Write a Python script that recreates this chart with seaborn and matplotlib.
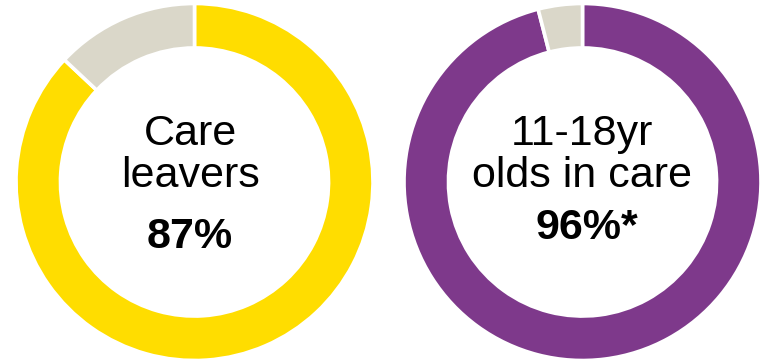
import matplotlib
matplotlib.use("Agg")
import matplotlib.pyplot as plt
import seaborn as sns

sns.set_theme(style="white")
plt.rcParams["font.family"] = ["Liberation Sans", "DejaVu Sans"]

# Share of each group, and the remainder shown in grey
groups = ["Care\nleavers", "11-18yr\nolds in care"]
shares = [87, 96]
share_labels = ["87%", "96%*"]
ring_colors = ["#FFDD00", "#7E398B"]
rest_color = "#DAD7C9"

W, H = 761, 361
fig = plt.figure(figsize=(W / 100, H / 100), dpi=100)
fig.patch.set_facecolor("white")

# donut centres and outer radius in pixels
centres = [(194.5, 182.0), (582.5, 182.0)]
half = 178.5
text_x = [190.0, 582.0]

for i, (g, s, lab, col) in enumerate(zip(groups, shares, share_labels, ring_colors)):
    cx, cy = centres[i]
    ax = fig.add_axes([(cx - half) / W, (H - cy - half) / H, 2 * half / W, 2 * half / H])
    ax.pie([s, 100 - s], colors=[col, rest_color], startangle=90, counterclock=False,
           radius=1.0, wedgeprops=dict(width=0.249, edgecolor="white", linewidth=2.6))
    ax.set_xlim(-1, 1)
    ax.set_ylim(-1, 1)
    ax.set_aspect("equal")
    ax.axis("off")

    tx = text_x[i] / W
    top, bottom = g.split("\n")
    fig.text(tx, 1 - 145 / H, top, ha="center", va="baseline",
             fontsize=31, color="black")
    fig.text(tx, 1 - 187 / H, bottom, ha="center", va="baseline",
             fontsize=31, color="black")
    by = 248 if i == 0 else 239
    fig.text(tx + (0.006 if i == 1 else 0), 1 - by / H, lab, ha="center", va="baseline",
             fontsize=31, fontweight="bold", color="black")

fig.savefig("out.png", dpi=100, facecolor="white")
